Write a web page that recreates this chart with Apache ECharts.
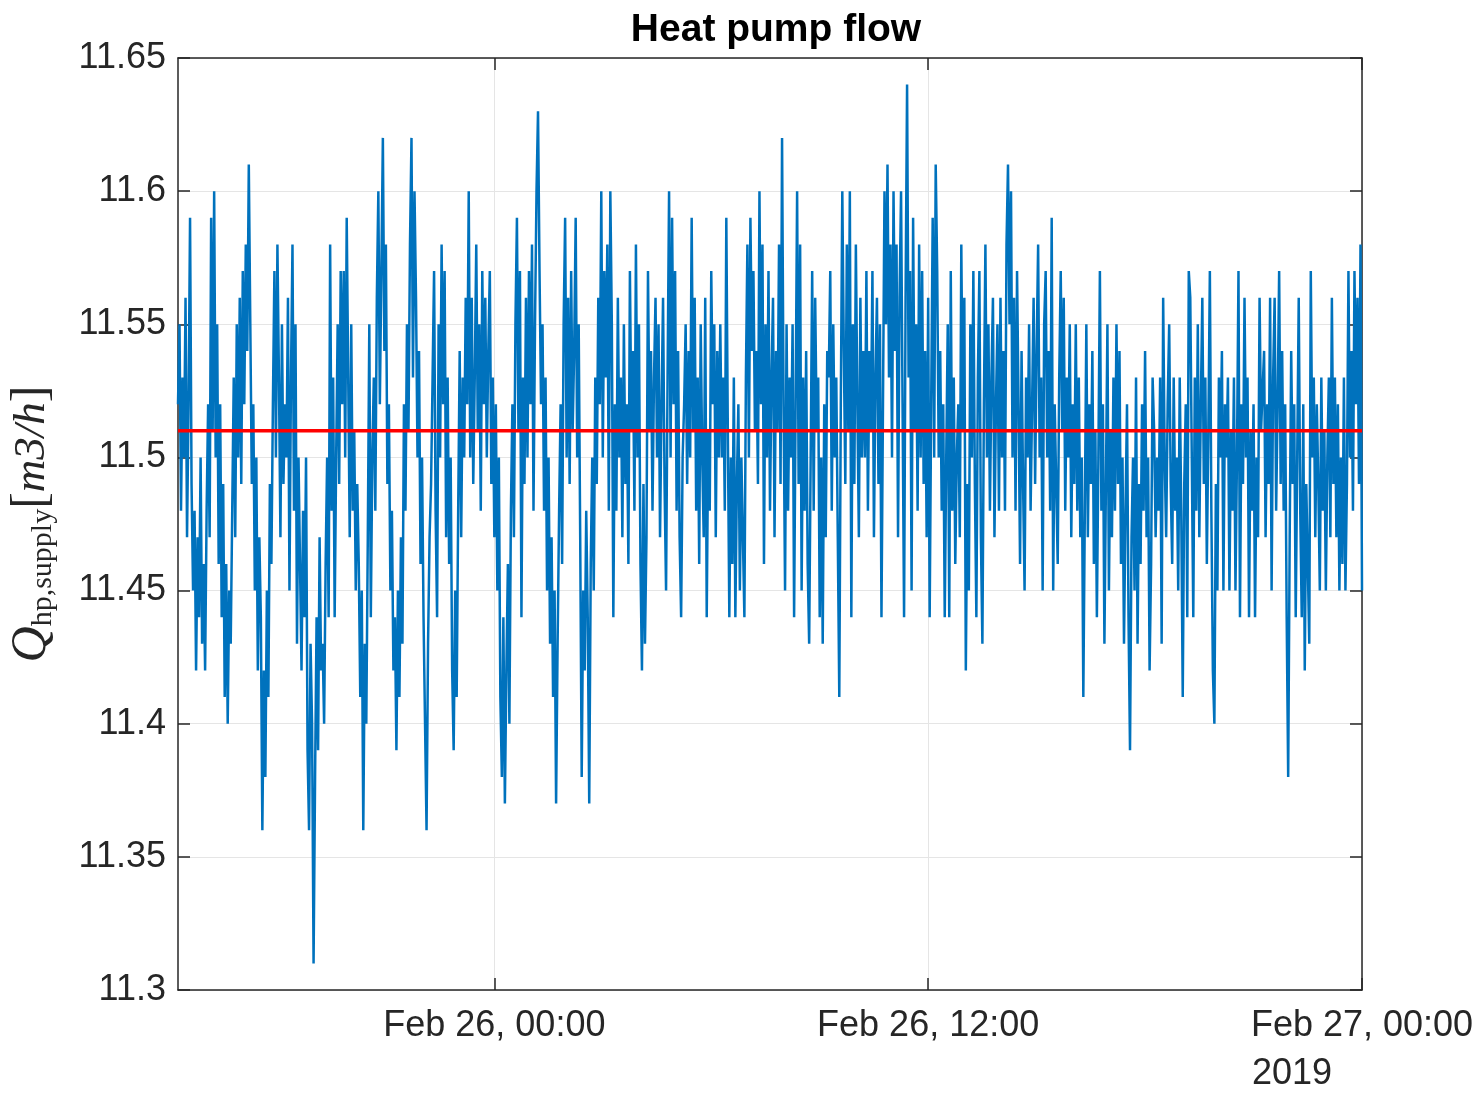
<!DOCTYPE html>
<html>
<head>
<meta charset="utf-8">
<title>Heat pump flow</title>
<script src="https://cdn.jsdelivr.net/npm/echarts@6/dist/echarts.min.js"></script>
<style>
  html, body { margin: 0; padding: 0; background: #fff; }
  #chart { width: 1480px; height: 1094px; }
</style>
</head>
<body>
<div id="chart"></div>
<script>
// time in hours relative to Feb 26 00:00, one sample every 2.5 min from Feb 25 15:15
const startHour = -8.75;
const endHour = 24;
const stepHour = 2.5 / 60;
const meanFlow = 11.51;

// flow [m3/h], one line per hour
const flowPartA = [
  11.52,11.55,11.48,11.53,11.50,11.56,11.47,11.52,11.59,11.49,11.45,11.48,11.42,11.47,11.44,11.50,11.43,11.46,11.42,11.48,11.52,11.47,11.59,11.51,
  11.60,11.50,11.55,11.46,11.52,11.44,11.49,11.41,11.46,11.40,11.45,11.43,11.48,11.53,11.47,11.55,11.50,11.56,11.49,11.57,11.52,11.58,11.54,11.61,
  11.55,11.49,11.52,11.45,11.50,11.42,11.47,11.44,11.36,11.42,11.38,11.45,11.41,11.49,11.46,11.52,11.57,11.50,11.58,11.53,11.47,11.55,11.49,11.52,
  11.50,11.56,11.45,11.53,11.58,11.48,11.55,11.43,11.50,11.46,11.42,11.48,11.44,11.50,11.39,11.36,11.43,11.40,11.31,11.38,11.44,11.39,11.47,11.42,
  11.43,11.40,11.46,11.50,11.44,11.58,11.48,11.53,11.44,11.50,11.55,11.49,11.57,11.52,11.57,11.50,11.59,11.53,11.47,11.55,11.48,11.51,11.45,11.49,
  11.46,11.41,11.45,11.36,11.43,11.40,11.47,11.55,11.44,11.50,11.53,11.48,11.56,11.60,11.52,11.57,11.62,11.54,11.58,11.49,11.52,11.45,11.48,11.42,
  11.44,11.39,11.45,11.41,11.47,11.43,11.52,11.48,11.55,11.51,11.58,11.62,11.53,11.60,11.56,11.50,11.54,11.46,11.50,11.44,11.40,11.36,11.43,11.47,
  11.49,11.53,11.57,11.48,11.44,11.55,11.50,11.58,11.52,11.57,11.47,11.53,11.46,11.50,11.42,11.39,11.45,11.41,11.48,11.54,11.47,11.53,11.50,11.56,
  11.52,11.60,11.50,11.56,11.49,11.53,11.58,11.51,11.55,11.48,11.57,11.52,11.56,11.50,11.54,11.57,11.49,11.53,11.47,11.52,11.45,11.50,11.41,11.38,
  11.44,11.37,11.42,11.46,11.40,11.48,11.52,11.47,11.55,11.59,11.51,11.57,11.44,11.53,11.49,11.56,11.50,11.57,11.52,11.58,11.48,11.55,11.60,11.63,
  11.57,11.52,11.55,11.48,11.53,11.45,11.50,11.43,11.47,11.41,11.45,11.37,11.43,11.48,11.52,11.46,11.55,11.59,11.50,11.56,11.49,11.57,11.51,11.54
];
const flowPartB = [
  11.59,11.50,11.55,11.47,11.38,11.45,11.42,11.48,11.44,11.37,11.46,11.50,11.45,11.53,11.49,11.56,11.52,11.60,11.50,11.57,11.53,11.58,11.48,11.60,
  11.55,11.44,11.52,11.48,11.56,11.50,11.53,11.47,11.55,11.49,11.52,11.46,11.57,11.51,11.54,11.48,11.58,11.50,11.55,11.46,11.42,11.49,11.43,11.47,
  11.57,11.51,11.54,11.48,11.53,11.56,11.50,11.55,11.47,11.52,11.56,11.49,11.45,11.53,11.60,11.50,11.59,11.52,11.57,11.48,11.54,11.47,11.44,11.50,
  11.52,11.55,11.49,11.54,11.50,11.59,11.51,11.56,11.48,11.53,11.46,11.55,11.50,11.47,11.56,11.44,11.51,11.48,11.57,11.52,11.55,11.47,11.54,11.50,
  11.55,11.50,11.53,11.48,11.59,11.51,11.44,11.50,11.46,11.53,11.44,11.49,11.52,11.45,11.50,11.47,11.44,11.53,11.58,11.50,11.59,11.54,11.57,11.51,
  11.54,11.49,11.60,11.52,11.58,11.46,11.55,11.50,11.57,11.48,11.53,11.56,11.47,11.54,11.51,11.58,11.49,11.62,11.52,11.45,11.55,11.48,11.53,11.50,
  11.55,11.44,11.52,11.60,11.49,11.58,11.45,11.53,11.48,11.54,11.46,11.43,11.50,11.57,11.48,11.56,11.51,11.53,11.44,11.50,11.43,11.52,11.47,11.54,
  11.53,11.57,11.48,11.55,11.50,11.53,11.47,11.41,11.52,11.60,11.54,11.49,11.58,11.51,11.60,11.44,11.55,11.49,11.58,11.52,11.47,11.56,11.50,11.54,
  11.50,11.57,11.48,11.54,11.51,11.57,11.47,11.53,11.56,11.49,11.55,11.44,11.52,11.60,11.55,11.61,11.53,11.58,11.50,11.60,11.54,11.58,11.47,11.56,
  11.60,11.52,11.44,11.56,11.64,11.53,11.57,11.45,11.59,11.51,11.55,11.48,11.58,11.50,11.57,11.49,11.54,11.47,11.56,11.44,11.52,11.59,11.50,11.61,
  11.57,11.50,11.54,11.48,11.52,11.44,11.50,11.55,11.44,11.57,11.48,11.53,11.46,11.50,11.52,11.47,11.58,11.51,11.56,11.42,11.49,11.45,11.55,11.50
];
const flowPartC = [
  11.57,11.49,11.44,11.53,11.57,11.47,11.43,11.52,11.58,11.50,11.55,11.48,11.53,11.56,11.47,11.52,11.55,11.48,11.56,11.50,11.54,11.48,11.58,11.61,
  11.55,11.60,11.50,11.56,11.48,11.57,11.52,11.46,11.54,11.49,11.45,11.53,11.50,11.55,11.48,11.52,11.56,11.49,11.54,11.58,11.50,11.53,11.45,11.55,
  11.57,11.50,11.54,11.48,11.59,11.45,11.52,11.49,11.46,11.53,11.57,11.51,11.56,11.48,11.53,11.50,11.55,11.47,11.52,11.49,11.55,11.48,11.53,11.47,
  11.50,11.41,11.48,11.55,11.47,11.52,11.49,11.54,11.46,11.51,11.44,11.50,11.57,11.48,11.52,11.43,11.49,11.55,11.45,11.51,11.47,11.53,11.48,11.55,
  11.49,11.54,11.46,11.50,11.43,11.48,11.52,11.44,11.39,11.47,11.50,11.45,11.53,11.43,11.49,11.46,11.52,11.48,11.54,11.47,11.50,11.42,11.46,11.53,
  11.51,11.47,11.50,11.48,11.53,11.43,11.56,11.50,11.47,11.52,11.55,11.49,11.46,11.53,11.48,11.50,11.45,11.53,11.48,11.41,11.49,11.52,11.44,11.57,
  11.56,11.50,11.44,11.53,11.48,11.55,11.47,11.52,11.56,11.49,11.53,11.46,11.51,11.57,11.48,11.42,11.40,11.49,11.45,11.53,11.50,11.54,11.45,11.52,
  11.50,11.53,11.45,11.51,11.48,11.53,11.45,11.50,11.57,11.44,11.52,11.49,11.56,11.50,11.53,11.44,11.51,11.48,11.52,11.44,11.50,11.47,11.56,11.51,
  11.51,11.54,11.47,11.52,11.49,11.56,11.45,11.53,11.56,11.48,11.52,11.57,11.49,11.54,11.48,11.52,11.44,11.38,11.47,11.54,11.49,11.52,11.44,11.50,
  11.56,11.48,11.44,11.52,11.42,11.49,11.46,11.43,11.57,11.50,11.53,11.47,11.52,11.49,11.45,11.53,11.48,11.51,11.45,11.50,11.53,11.47,11.56,11.49,
  11.53,11.47,11.52,11.45,11.50,11.46,11.53,11.45,11.49,11.57,11.50,11.54,11.48,11.57,11.52,11.56,11.49,11.58,11.45
];

// axis ticks
const xTickHours = [0, 12, 24];
const xTickLabels = ['Feb 26, 00:00', 'Feb 26, 12:00', 'Feb 27, 00:00'];
const yearLabel = '2019';
const yMin = 11.3, yMax = 11.65, yStep = 0.05;

const flow = flowPartA.concat(flowPartB, flowPartC);
const flowData = flow.map((v, i) => [startHour + i * stepHour, v]);

const axisColor = '#262626';
const gridColor = '#e5e5e5';
const font = 'Liberation Sans, Arial, Helvetica, sans-serif';
const serif = 'Liberation Serif, DejaVu Serif, serif';

let myChart = echarts.init(document.getElementById('chart'));

let option = {
  backgroundColor: '#fff',
  animation: false,
  title: {
    text: 'Heat pump flow',
    left: 771,
    textAlign: 'center',
    top: 6,
    textStyle: { fontFamily: font, fontSize: 39, fontWeight: 'bold', color: '#000' }
  },
  grid: { left: 178, right: 118, top: 58, bottom: 104, outerBoundsMode: 'none' },
  xAxis: [
    {
      type: 'value',
      min: startHour,
      max: endHour,
      position: 'bottom',
      axisLine: { onZero: false, lineStyle: { color: axisColor, width: 1.5 } },
      axisTick: {
        inside: true, length: 12, customValues: xTickHours,
        lineStyle: { color: axisColor, width: 1.5 }
      },
      axisLabel: {
        customValues: xTickHours,
        margin: 12,
        color: '#262626',
        fontFamily: font,
        fontSize: 36,
        lineHeight: 48,
        formatter: function (v) {
          let i = xTickHours.indexOf(v);
          if (i < 0) return '';
          let s = xTickLabels[i];
          if (i === xTickHours.length - 1) s += '\n{yr|' + yearLabel + '}';
          return s;
        },
        rich: {
          yr: { fontFamily: font, fontSize: 36, color: '#262626', lineHeight: 48, padding: [0, 140, 0, 0] }
        }
      },
      splitLine: { show: true, lineStyle: { color: gridColor, width: 1 } }
    },
    {
      type: 'value',
      min: startHour,
      max: endHour,
      position: 'top',
      axisLine: { onZero: false, lineStyle: { color: axisColor, width: 1.5 } },
      axisTick: {
        inside: true, length: 12, customValues: xTickHours,
        lineStyle: { color: axisColor, width: 1.5 }
      },
      axisLabel: { show: false },
      splitLine: { show: false }
    }
  ],
  yAxis: [
    {
      type: 'value',
      min: yMin,
      max: yMax,
      interval: yStep,
      position: 'left',
      name: '{q|Q}{s|hp,supply}{b|[}{i|m3/h}{b|]}',
      nameLocation: 'middle',
      nameRotate: 90,
      nameGap: 120,
      nameTextStyle: {
        rich: {
          q: { fontFamily: serif, fontStyle: 'italic', fontSize: 50, color: '#262626' },
          s: { fontFamily: serif, fontSize: 30, color: '#262626', padding: [22, 0, 0, 0] },
          b: { fontFamily: serif, fontSize: 50, color: '#262626' },
          i: { fontFamily: serif, fontStyle: 'italic', fontSize: 45, color: '#262626' }
        }
      },
      axisLine: { show: true, onZero: false, lineStyle: { color: axisColor, width: 1.5 } },
      axisTick: { inside: true, length: 12, lineStyle: { color: axisColor, width: 1.5 } },
      axisLabel: {
        margin: 12,
        color: '#262626',
        fontFamily: font,
        fontSize: 36,
        formatter: v => String(parseFloat(v.toFixed(2)))
      },
      splitLine: { show: true, lineStyle: { color: gridColor, width: 1 } }
    },
    {
      type: 'value',
      min: yMin,
      max: yMax,
      interval: yStep,
      position: 'right',
      axisLine: { show: true, onZero: false, lineStyle: { color: axisColor, width: 1.5 } },
      axisTick: { inside: true, length: 12, lineStyle: { color: axisColor, width: 1.5 } },
      axisLabel: { show: false },
      splitLine: { show: false }
    }
  ],
  series: [
    {
      name: 'flow',
      type: 'line',
      xAxisIndex: 0,
      yAxisIndex: 0,
      data: flowData,
      showSymbol: false,
      symbol: 'none',
      lineStyle: { color: '#0072BD', width: 2.5, join: 'bevel' },
      z: 2
    },
    {
      name: 'mean',
      type: 'line',
      xAxisIndex: 0,
      yAxisIndex: 0,
      data: [[startHour, meanFlow], [endHour, meanFlow]],
      symbol: 'none',
      lineStyle: { color: '#ff0000', width: 3.5 },
      z: 3
    }
  ]
};

myChart.setOption(option);
</script>
</body>
</html>
